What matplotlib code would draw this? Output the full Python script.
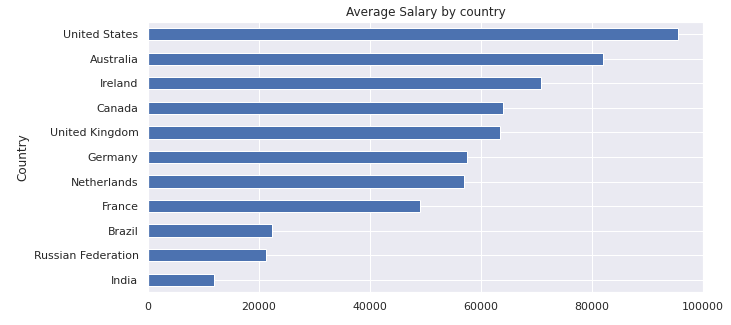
import matplotlib
matplotlib.use("Agg")
import matplotlib.pyplot as plt
import seaborn as sns
import numpy as np

# average salary per country (top to bottom)
countries = ["United States", "Australia", "Ireland", "Canada", "United Kingdom",
             "Germany", "Netherlands", "France", "Brazil", "Russian Federation", "India"]
salaries = [95500, 81900, 70900, 63900, 63500, 57500, 57000, 49000, 22400, 21300, 11900]

sns.set_theme(style="darkgrid")
plt.rcParams['font.family'] = ['DejaVu Sans']

fig = plt.figure(figsize=(731 / 72, 325 / 72), dpi=72)
ax = fig.add_axes([148 / 731, 1 - 292 / 325, (703 - 148) / 731, (292 - 22) / 325])

# pandas-style barh: smallest at the bottom
vals = salaries[::-1]
labels = countries[::-1]
pos = np.arange(len(vals))
ax.barh(pos, vals, height=0.5, color="#4c72b0", edgecolor="white", linewidth=1)
ax.set_yticks(pos)
ax.set_yticklabels(labels, fontsize=11)
ax.set_ylim(-0.5, len(vals) - 0.5)
ax.set_xlim(0, 100000)
ax.set_xticks([0, 20000, 40000, 60000, 80000, 100000])
ax.set_xticklabels(["0", "20000", "40000", "60000", "80000", "100000"], fontsize=11)
ax.set_ylabel("Country", fontsize=12)
ax.set_title("Average Salary by country", fontsize=12)

fig.savefig("out.png", dpi=72)
